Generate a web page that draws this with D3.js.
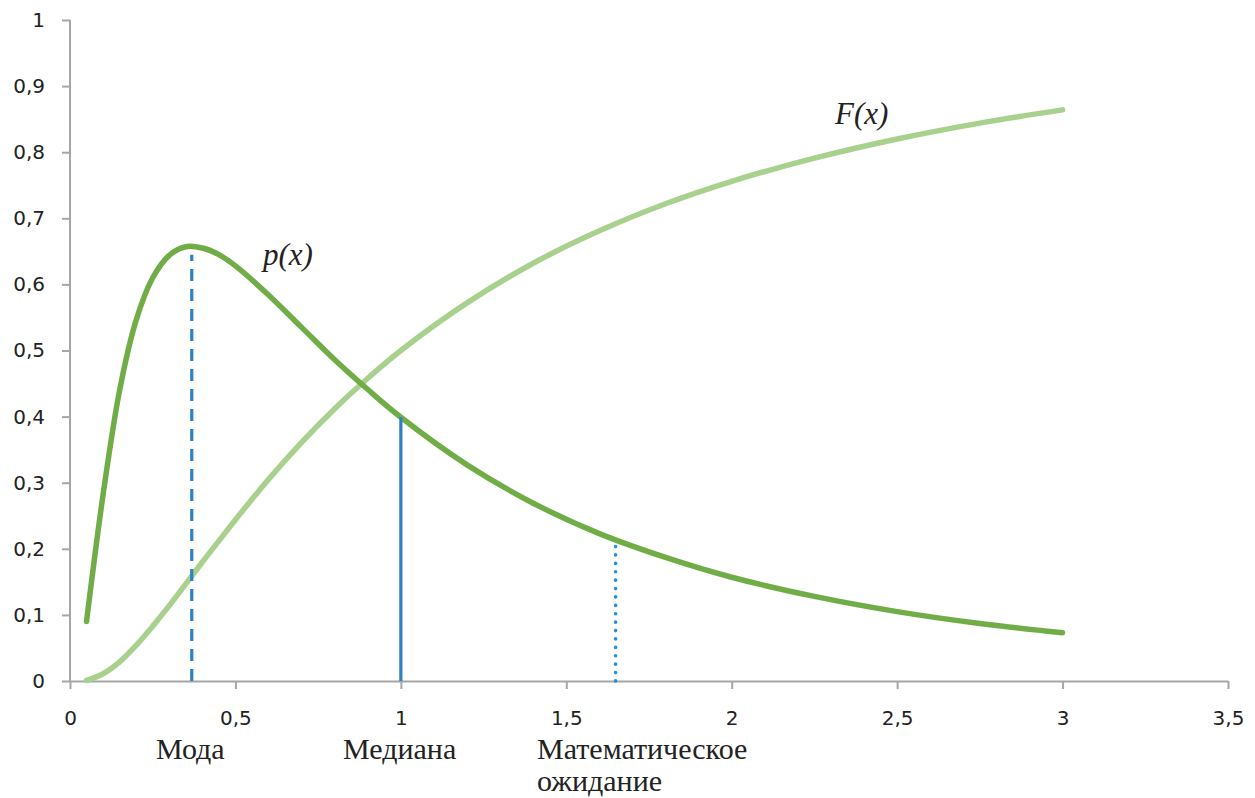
<!DOCTYPE html>
<html><head><meta charset="utf-8">
<script src="https://cdn.jsdelivr.net/npm/d3@7"></script>
<style>body{margin:0;background:#fff}svg{display:block}</style>
</head><body>
<svg id="c" width="1255" height="798"></svg>
<script>
const xs      = [0.05,0.1,0.15,0.2,0.25,0.3,0.35,0.4,0.45,0.5,0.6,0.7,0.8,0.9,1.0,1.2,1.4,1.6,1.8,2.0,2.25,2.5,2.75,3.0];
const pValues = [0.090,0.282,0.440,0.546,0.610,0.644,0.657,0.655,0.645,0.628,0.584,0.535,0.486,0.441,0.399,0.327,0.269,0.223,0.187,0.157,0.128,0.105,0.087,0.073];
const FValues = [0.001,0.011,0.029,0.054,0.083,0.114,0.147,0.180,0.212,0.244,0.305,0.361,0.412,0.458,0.500,0.572,0.632,0.681,0.722,0.756,0.791,0.820,0.844,0.864];
const markerNames  = ["Мода","Медиана","Математическое ожидание"];
const markerX      = [0.368,1.0,1.649];
const markerTop    = [0.657,0.399,0.214];
const xTicks = [0,0.5,1,1.5,2,2.5,3,3.5];
const yTicks = [0,0.1,0.2,0.3,0.4,0.5,0.6,0.7,0.8,0.9,1];
const fmt = v => String(v).replace(".", ",");

const svg = d3.select("#c");
const x = d3.scaleLinear().domain([0,3.5]).range([70,1228]);
const y = d3.scaleLinear().domain([0,1]).range([681,20]);
const axisColor = "#a6a6a6";

// axes
const xa = svg.append("g").attr("transform","translate(0,681)")
  .call(d3.axisBottom(x).tickValues(xTicks).tickFormat(fmt).tickSizeInner(8).tickSizeOuter(0).tickPadding(22));
const ya = svg.append("g").attr("transform","translate(70,0)")
  .call(d3.axisLeft(y).tickValues(yTicks).tickFormat(fmt).tickSizeInner(8).tickSizeOuter(0).tickPadding(17));
[xa,ya].forEach(g=>{
  g.select(".domain").attr("stroke",axisColor).attr("stroke-width",2);
  g.selectAll(".tick line").attr("stroke",axisColor).attr("stroke-width",2);
  g.selectAll("text").attr("font-family","DejaVu Sans").attr("font-size",20).attr("fill","#222");
});
ya.select(".domain").attr("d","M0,20V681");

// curves
const pts = (vals) => xs.map((v,i)=>[v,vals[i]]);
const line = d3.line().x(d=>x(d[0])).y(d=>y(d[1])).curve(d3.curveCatmullRom.alpha(0.5));
svg.append("path").attr("d",line(pts(FValues))).attr("fill","none")
  .attr("stroke","#a9d18e").attr("stroke-width",5.5).attr("stroke-linecap","round");
svg.append("path").attr("d",line(pts(pValues))).attr("fill","none")
  .attr("stroke","#70ad47").attr("stroke-width",5.5).attr("stroke-linecap","round");

// marker lines
const styles = [
  {c:"#2e80c6",w:3.2,dash:"12,8",cap:"butt"},
  {c:"#2e80c6",w:3.2,dash:null,cap:"butt"},
  {c:"#1e90e8",w:3.6,dash:"0.1,8.3",cap:"round"}
];
markerX.forEach((mx,i)=>{
  const s = styles[i];
  const top = i===0 ? y(markerTop[i]) + 8 : y(markerTop[i]);
  const l = svg.append("line").attr("x1",x(mx)).attr("x2",x(mx))
    .attr("y1",681).attr("y2",top)
    .attr("stroke",s.c).attr("stroke-width",s.w).attr("stroke-linecap",s.cap);
  if (s.dash) l.attr("stroke-dasharray",s.dash);
});

// category labels
const lab = svg.append("g").attr("font-family","Liberation Serif").attr("font-size",30).attr("fill","#222");
lab.append("text").attr("x",156).attr("y",759).text(markerNames[0]);
lab.append("text").attr("x",343).attr("y",759).text(markerNames[1]);
const w = markerNames[2].split(" ");
lab.append("text").attr("x",537).attr("y",759).text(w[0]);
lab.append("text").attr("x",537).attr("y",791).text(w[1]);

// curve labels
const cl = svg.append("g").attr("font-family","Liberation Serif").attr("font-style","italic").attr("font-size",31).attr("fill","#222");
cl.append("text").attr("x",263).attr("y",265).text("p(x)");
cl.append("text").attr("x",835).attr("y",124).text("F(x)");
</script>
</body></html>
